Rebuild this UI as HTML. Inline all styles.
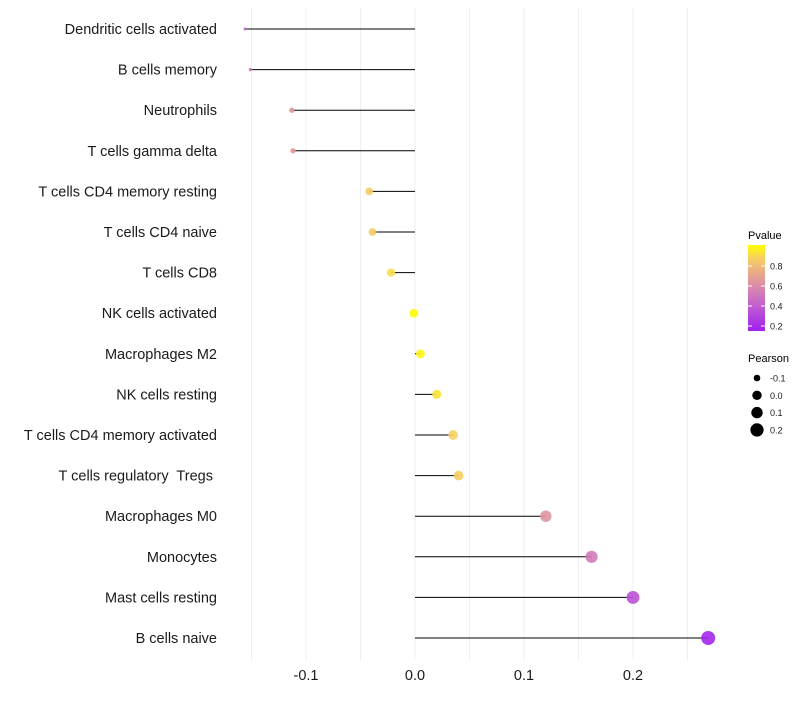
<!DOCTYPE html>
<html><head><meta charset="utf-8"><style>
body{margin:0;background:#fff;font-family:"Liberation Sans",sans-serif}
svg text{font-family:"Liberation Sans",sans-serif;white-space:pre}
</style></head><body>
<svg id="chart" width="800" height="700" viewBox="0 0 800 700" xmlns="http://www.w3.org/2000/svg">
<defs>
<linearGradient id="pg" x1="0" y1="1" x2="0" y2="0">
<stop offset="0" stop-color="#a020f0"/>
<stop offset="0.35" stop-color="#c86ac8"/>
<stop offset="0.6" stop-color="#e39a9a"/>
<stop offset="0.85" stop-color="#f7d060"/>
<stop offset="1" stop-color="#ffff00"/>
</linearGradient>
</defs>
<g id="grid"></g>
<g id="marks"></g>
<g id="ylabels"></g>
<g id="xlabels"></g>
<g>
<text x="748" y="239" font-size="11" fill="#000">Pvalue</text>
<rect x="748" y="245" width="17" height="86" fill="url(#pg)"/>
<g id="cbticks"></g>
</g>
<g>
<text x="748" y="362" font-size="11" fill="#000">Pearson</text>
<g id="sizeleg"></g>
</g>
</svg>
<script>
const categories=["Dendritic cells activated","B cells memory","Neutrophils","T cells gamma delta","T cells CD4 memory resting","T cells CD4 naive","T cells CD8","NK cells activated","Macrophages M2","NK cells resting","T cells CD4 memory activated","T cells regulatory  Tregs ","Macrophages M0","Monocytes","Mast cells resting","B cells naive"];
const pearson=[-0.156,-0.151,-0.113,-0.112,-0.042,-0.039,-0.022,-0.001,0.005,0.020,0.035,0.040,0.120,0.162,0.200,0.269];
const pvalue=[0.45,0.5,0.65,0.66,0.85,0.86,0.9,1.0,0.98,0.93,0.87,0.86,0.64,0.52,0.35,0.18];
const xTicks=[-0.1,0,0.1,0.2];
const xTickLabels=["-0.1","0.0","0.1","0.2"];
const cbTicks=[0.2,0.4,0.6,0.8];
const sizeLegend=[-0.1,0,0.1,0.2];
const NS="http://www.w3.org/2000/svg";
const X=v=>415+v*1090;
const Y=i=>29+i*40.6;
const CB=p=>326-(p-0.2)*100;
const R=v=>Math.sqrt(Math.max(1,19.4+110*v));
const stops=[[0.15,[160,32,240]],[0.45,[200,106,200]],[0.66,[227,154,154]],[0.87,[247,208,96]],[1.01,[255,255,0]]];
function col(p){for(let k=1;k<stops.length;k++){if(p<=stops[k][0]||k==stops.length-1){const a=stops[k-1],b=stops[k];let t=(p-a[0])/(b[0]-a[0]);t=Math.max(0,Math.min(1,t));const c=a[1].map((x,j)=>Math.round(x+(b[1][j]-x)*t));return `rgb(${c})`;}}}
function mk(tag,at,parent){const e=document.createElementNS(NS,tag);for(const k in at)e.setAttribute(k,at[k]);document.getElementById(parent).appendChild(e);return e;}
for(let g=-0.15;g<=0.251;g+=0.05){
 const l=mk('line',{x1:X(g),x2:X(g),y1:8,y2:660,stroke:'#efefef','stroke-width':1},'grid');
 
 
}
categories.forEach((c,i)=>{
 const l=mk('line',{x1:X(0),x2:X(pearson[i]),y1:Y(i),y2:Y(i),stroke:'#000','stroke-width':1},'marks');
 
 
 const d=mk('circle',{cx:X(pearson[i]),cy:Y(i),r:R(pearson[i]),fill:col(pvalue[i]),'fill-opacity':0.9},'marks');
 
 
 const t=mk('text',{x:217,y:Y(i)+5,'text-anchor':'end','font-size':14.5,fill:'#1a1a1a','xml:space':'preserve'},'ylabels');
 t.textContent=c;
 
 
});
xTicks.forEach((v,i)=>{
 const t=mk('text',{x:X(v),y:680,'text-anchor':'middle','font-size':14.5,fill:'#1a1a1a'},'xlabels');
 t.textContent=xTickLabels[i];
 
 
});
cbTicks.forEach(v=>{
 const l=mk('line',{x1:748,x2:752,y1:CB(v),y2:CB(v),stroke:'#fff','stroke-width':1},'cbticks');
 
 
 const l2=mk('line',{x1:761,x2:765,y1:CB(v),y2:CB(v),stroke:'#fff','stroke-width':1},'cbticks');
 
 
 const t=mk('text',{x:770,y:CB(v)+3.5,'font-size':9,fill:'#1a1a1a'},'cbticks');
 t.textContent=v.toFixed(1);
 
 
});
sizeLegend.forEach((v,i)=>{
 const y=378+i*17.3;
 const c=mk('circle',{cx:757,cy:y,r:[3.3,4.7,5.7,6.6][i],fill:'#000'},'sizeleg');
 
 
 const t=mk('text',{x:770,y:y+3.5,'font-size':9,fill:'#1a1a1a'},'sizeleg');
 t.textContent=v.toFixed(1);
 
 
});
</script>
</body></html>
